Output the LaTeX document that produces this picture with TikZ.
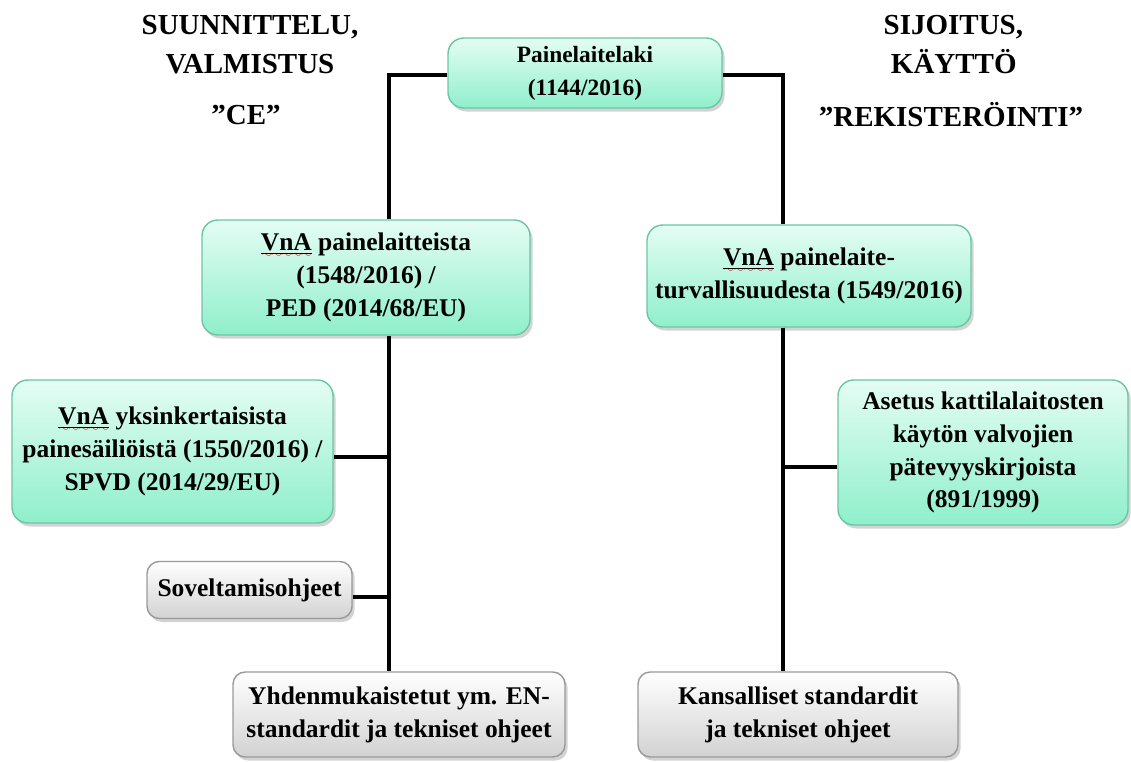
\documentclass[tikz,border=0pt]{standalone}
\usepackage{fontspec}
\setmainfont{Liberation Serif}
\usetikzlibrary{shadows}
\definecolor{mintTop}{HTML}{E4FDF4}
\definecolor{mintBot}{HTML}{8FEFCB}
\definecolor{mintLine}{HTML}{6CC6A4}
\definecolor{grayTop}{HTML}{FFFFFF}
\definecolor{grayBot}{HTML}{D2D2D2}
\definecolor{grayLine}{HTML}{999999}
\font\wavyfont=lasy6
\newcommand\vna{\leavevmode\setbox0\hbox{\underline{VnA}}\rlap{\textcolor{red}{\lower4pt\hbox to\wd0{\xleaders\hbox{\wavyfont\char58}\hfil}}}\box0}
\tikzset{
  lawbox/.style={draw=mintLine, thick, rounded corners=9pt, top color=mintTop, bottom color=mintBot,
    drop shadow={shadow xshift=1.5pt, shadow yshift=-2pt, opacity=0.35},
    align=center, inner sep=0pt, font=\bfseries\fontsize{14.5}{18.7}\selectfont},
  guidebox/.style={lawbox, draw=grayLine, top color=grayTop, bottom color=grayBot, rounded corners=7pt},
  heading/.style={font=\bfseries\fontsize{16.5}{22}\selectfont, align=center},
  link/.style={line width=2pt}
}
\begin{document}
\begin{tikzpicture}
\useasboundingbox (0,0) rectangle (22.62,15.24);
% headings
\node[heading] (hleft) at (5.0,14.35) {SUUNNITTELU,\\VALMISTUS};
\node[heading] (celeft) at (4.92,12.94) {”CE”};
\node[heading, align=left, anchor=west] (hright) at (17.55,14.35) {SIJOITUS,\\\ KÄYTTÖ};
\node[heading] (reg) at (19.02,12.94) {”REKISTERÖINTI”};
% boxes
\node[lawbox, font=\bfseries\fontsize{13.3}{18.7}\selectfont, minimum width=5.48cm, minimum height=1.4cm] (law) at (11.7,13.78) {Painelaitelaki\\(1144/2016)};
\node[lawbox, minimum width=6.56cm, minimum height=2.3cm] (ped) at (7.32,9.69) {\vna{} painelaitteista\\(1548/2016) /\\PED (2014/68/EU)};
\node[lawbox, minimum width=6.48cm, minimum height=2.04cm] (safe) at (16.18,9.72) {\vna{} painelaite-\\turvallisuudesta (1549/2016)};
\node[lawbox, minimum width=6.42cm, minimum height=2.86cm] (spvd) at (3.45,6.21) {\vna{} yksinkertaisista\\painesäiliöistä (1550/2016) /\\SPVD (2014/29/EU)};
\node[lawbox, minimum width=5.8cm, minimum height=2.9cm] (boiler) at (19.66,6.19) {Asetus kattilalaitosten\\käytön valvojien\\pätevyyskirjoista\\(891/1999)};
\node[guidebox, minimum width=4.1cm, minimum height=1.14cm] (guide) at (4.99,3.44) {Soveltamisohjeet};
\node[guidebox, minimum width=6.64cm, minimum height=1.7cm] (harm) at (7.98,0.95) {Yhdenmukaistetut ym. EN-\\standardit ja tekniset ohjeet};
\node[guidebox, minimum width=6.4cm, minimum height=1.7cm] (natl) at (15.96,0.95) {Kansalliset standardit\\ja tekniset ohjeet};
% trunks
\coordinate (ltop) at (7.78,13.74);
\coordinate (rtop) at (15.66,13.74);
\draw[link] (law.west |- ltop) -- (ltop) -- (ped.north -| ltop);
\draw[link] (ped.south -| ltop) -- (harm.north -| ltop);
\draw[link] ([yshift=-0.11cm]spvd.east) -- ([yshift=-0.11cm]spvd.east -| ltop);
\draw[link] ([yshift=-0.14cm]guide.east) -- ([yshift=-0.14cm]guide.east -| ltop);
\draw[link] (law.east |- rtop) -- (rtop) -- (safe.north -| rtop);
\draw[link] (safe.south -| rtop) -- (natl.north -| rtop);
\draw[link] ([yshift=-0.29cm]boiler.west) -- ([yshift=-0.29cm]boiler.west -| rtop);
\end{tikzpicture}
\end{document}
